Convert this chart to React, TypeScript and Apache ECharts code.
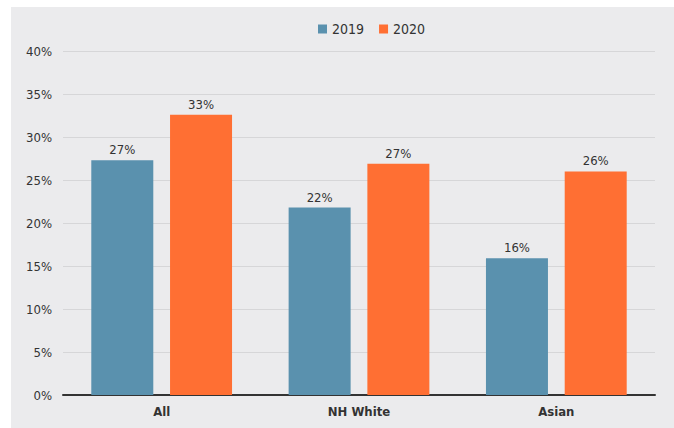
import React, { useEffect, useRef } from "react";
import * as echarts from "echarts";

const categories = ["All", "NH White", "Asian"];
const values2019 = [27.3, 21.8, 15.9];
const values2020 = [32.6, 26.9, 26.0];
const yTicks = [0, 5, 10, 15, 20, 25, 30, 35, 40];

const FONT = "'Liberation Sans Narrow', 'DejaVu Sans Condensed', 'Roboto Condensed', 'Roboto', sans-serif";

export default function App() {
  const ref = useRef<HTMLDivElement>(null);
  useEffect(() => {
    if (!ref.current) return;
    const chart = echarts.init(ref.current, null, { renderer: "svg" });
    const label = {
      show: true,
      position: "top",
      distance: 4,
      color: "#333",
      fontSize: 13,
      fontFamily: FONT,
      formatter: (p: any) => Math.round(p.value) + "%",
    };
    chart.setOption({
      animation: false,
      backgroundColor: "#ebebed",
      textStyle: { fontFamily: FONT },
      legend: {
        top: 10,
        left: 302,
        itemWidth: 9,
        itemHeight: 9,
        itemGap: 15,
        icon: "rect",
        textStyle: { fontSize: 14, color: "#333", fontFamily: FONT },
        data: ["2019", "2020"],
      },
      grid: { left: 52, right: 19, top: 44, bottom: 33 },
      xAxis: {
        type: "category",
        data: categories,
        axisLine: { lineStyle: { color: "#333", width: 2 } },
        axisTick: { show: false },
        axisLabel: { fontSize: 13, fontWeight: "bold", color: "#333", margin: 10, fontFamily: FONT },
      },
      yAxis: {
        type: "value",
        min: yTicks[0],
        max: yTicks[yTicks.length - 1],
        interval: 5,
        axisLine: { show: false },
        axisTick: { show: false },
        splitLine: { lineStyle: { color: "#d6d6d8", width: 1 } },
        axisLabel: { fontSize: 13, color: "#333", margin: 11, formatter: "{value}%", fontFamily: FONT },
      },
      series: [
        {
          name: "2019",
          type: "bar",
          data: values2019,
          barWidth: 62,
          barGap: "27%",
          itemStyle: { color: "#5a91ae" },
          label,
        },
        {
          name: "2020",
          type: "bar",
          data: values2020,
          barWidth: 62,
          itemStyle: { color: "#ff6f33" },
          label,
        },
      ],
    });
    return () => chart.dispose();
  }, []);
  return (
    <div
      ref={ref}
      style={{ position: "fixed", left: 11, top: 7, width: 663, height: 421 }}
    />
  );
}
